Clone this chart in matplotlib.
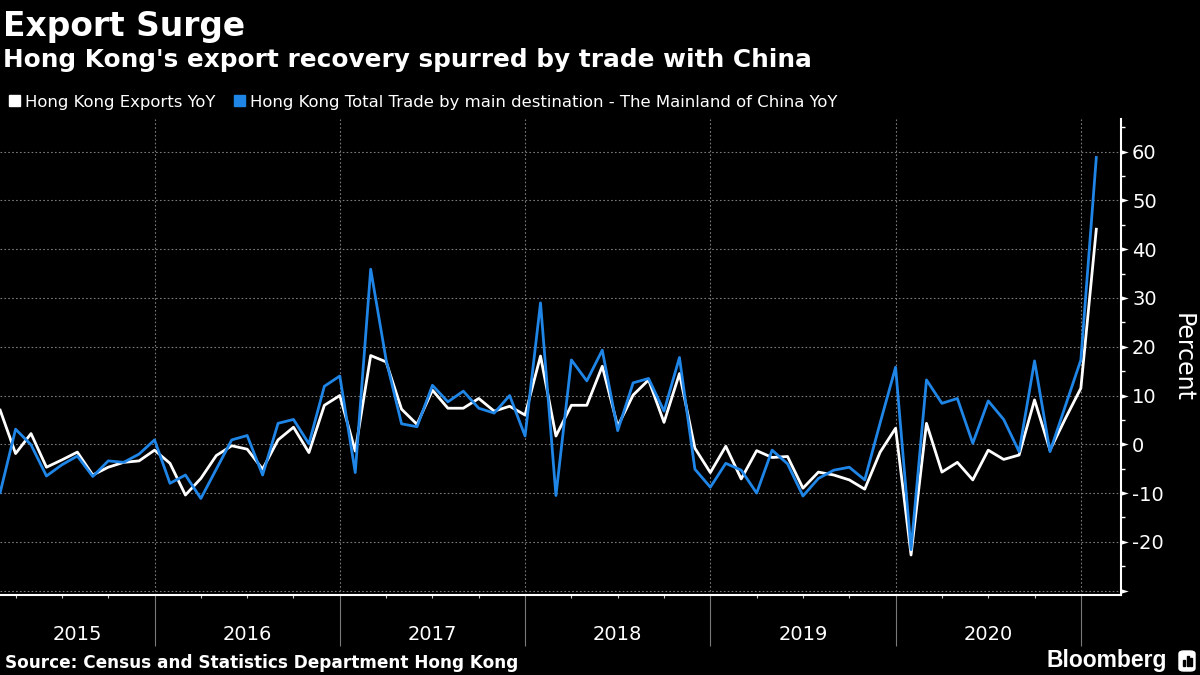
import numpy as np
import pandas as pd
import matplotlib
matplotlib.use('Agg')
import matplotlib.pyplot as plt
from matplotlib.path import Path
from matplotlib.patches import Rectangle, FancyBboxPatch

plt.rcParams['font.family'] = ['DejaVu Sans']

# monthly data, Feb 2015 .. Jan 2021
months = pd.date_range('2015-02-01', '2021-01-01', freq='MS')
hk_exports = [7.0, -1.9, 2.2, -4.7, -3.2, -1.6, -6.3, -4.7, -3.7, -3.4, -1.2, -3.9,
              -10.4, -7.0, -2.3, -0.3, -1.0, -5.1, 0.9, 3.5, -1.7, 8.0, 10.0, -1.4,
              18.2, 16.9, 7.2, 4.1, 11.1, 7.4, 7.4, 9.4, 6.8, 7.8, 6.0, 18.1,
              1.7, 8.0, 8.0, 16.0, 3.7, 10.1, 13.2, 4.5, 14.5, -0.8, -5.8, -0.4,
              -7.1, -1.3, -2.7, -2.5, -9.0, -5.7, -6.3, -7.3, -9.2, -1.6, 3.3, -22.7,
              4.3, -5.7, -3.7, -7.3, -1.2, -3.1, -2.2, 9.1, -1.2, 5.3, 11.5, 44.1]
china_trade = [-9.9, 3.1, -0.1, -6.5, -4.2, -2.4, -6.6, -3.4, -3.7, -2.0, 0.9, -8.0,
               -6.3, -11.1, -5.1, 0.9, 1.8, -6.3, 4.3, 5.1, 0.1, 11.9, 14.0, -5.8,
               35.9, 17.3, 4.2, 3.6, 12.1, 8.7, 10.9, 7.4, 6.4, 10.0, 1.7, 29.0,
               -10.5, 17.3, 13.0, 19.3, 2.8, 12.6, 13.5, 6.8, 17.8, -5.1, -8.8, -3.9,
               -5.3, -10.0, -1.2, -4.0, -10.6, -7.0, -5.3, -4.7, -7.3, 4.4, 15.8, -21.6,
               13.2, 8.4, 9.4, 0.2, 8.9, 5.1, -1.5, 17.1, -1.5, 7.9, 17.3, 58.8]
year_labels = ['2015', '2016', '2017', '2018', '2019', '2020']
y_ticks = [-30, -20, -10, 0, 10, 20, 30, 40, 50, 60]

W, H = 1200, 675
BLUE = '#1f85e6'
GRID = '#7a7a7a'

# month-end position, months since Jan 2015
x = np.array([(m.year - 2015) * 12 + m.month for m in months])

fig = plt.figure(figsize=(12, 6.75), dpi=100, facecolor='black')
ax = fig.add_axes([0, (H - 595) / H, 1121 / W, (595 - 119) / H])
ax.set_facecolor('black')

ax.plot(x, hk_exports, color='white', lw=2.0, zorder=3)
ax.plot(x, china_trade, color=BLUE, lw=2.0, zorder=4)

ax.set_xlim(1.99, 74.6)
ax.set_ylim(-30.9, 66.7)

for s in ['top', 'left']:
    ax.spines[s].set_visible(False)
for s in ['bottom', 'right']:
    ax.spines[s].set_color('white')
    ax.spines[s].set_linewidth(1.5)

# y axis on the right
ax.yaxis.tick_right()
ax.set_yticks(y_ticks)
ax.set_yticklabels(['' if v == -30 else str(v) for v in y_ticks])
ax.set_yticks(np.arange(-25, 70, 10), minor=True)
ax.tick_params(axis='y', which='major', length=0, pad=8, labelsize=14, labelcolor='white')
ax.tick_params(axis='y', which='minor', length=3, width=1, color='white')
caret = Path([(0, -0.3), (1, 0), (0, 0.3), (0, -0.3)],
             [Path.MOVETO, Path.LINETO, Path.LINETO, Path.CLOSEPOLY])
ax.plot([1.0] * len(y_ticks), y_ticks, ls='none', marker=caret, ms=10.5,
        color='white', mew=0, transform=ax.get_yaxis_transform(), clip_on=False, zorder=6)
ax.set_ylabel('Percent', rotation=270, color='white', fontsize=17, labelpad=22)
ax.yaxis.set_label_position('right')

# x axis: year separators + quarterly ticks
year_bounds = list(range(12, 73, 12))
ax.set_xticks(year_bounds)
ax.set_xticklabels([])
ax.set_xticks([q for q in range(3, 75, 3) if q % 12], minor=True)
ax.tick_params(axis='x', which='major', length=37, width=0.8, color=GRID, direction='out')
ax.tick_params(axis='x', which='minor', length=2.5, width=0.8, color='#cccccc', direction='out')
label_pos = [(1.99 + 12) / 2] + [12 * i + 6 for i in range(1, 6)]
for xp, lab in zip(label_pos, year_labels):
    ax.text(xp, -40 / 476, lab, transform=ax.get_xaxis_transform(), ha='center',
            va='center', color='white', fontsize=14)

ax.grid(True, which='major', color=GRID, lw=0.8, ls=(0, (1.5, 2)))
ax.set_axisbelow(True)

# titles
fig.text(3 / W, 1 - 36 / H, 'Export Surge', color='white', fontsize=23.7,
         fontweight='bold', va='baseline', ha='left')
fig.text(3 / W, 1 - 67 / H, "Hong Kong's export recovery spurred by trade with China",
         color='white', fontsize=17.8, fontweight='bold', va='baseline', ha='left')

# legend
fig.patches.append(Rectangle((9 / W, 1 - 106 / H), 11 / W, 11 / H, color='white',
                             transform=fig.transFigure))
fig.text(25 / W, 1 - 106.5 / H, 'Hong Kong Exports YoY', color='white', fontsize=11.85,
         va='baseline', ha='left')
fig.patches.append(Rectangle((234 / W, 1 - 106 / H), 11 / W, 11 / H, color=BLUE,
                             transform=fig.transFigure))
fig.text(250 / W, 1 - 106.5 / H,
         'Hong Kong Total Trade by main destination - The Mainland of China YoY',
         color='white', fontsize=11.85, va='baseline', ha='left')

# footer
fig.text(5 / W, 7 / H, 'Source: Census and Statistics Department Hong Kong',
         color='white', fontsize=12.2, fontweight='bold', va='baseline', ha='left')
fig.text(1167 / W, 8 / H, 'Bloomberg', color='white', fontsize=16.5, fontweight='bold',
         family='Liberation Sans', va='baseline', ha='right')
fig.patches.append(FancyBboxPatch((1179 / W, 4 / H), 16 / W, 20 / H,
                                  boxstyle='round,pad=0,rounding_size=0.004',
                                  color='white', transform=fig.transFigure))
for bx, bh in [(1183, 6), (1186.5, 10), (1190, 8)]:
    fig.patches.append(Rectangle((bx / W, 9 / H), 2 / W, bh / H, color='black',
                                 transform=fig.transFigure))

fig.savefig('out.png', dpi=100, facecolor='black')
